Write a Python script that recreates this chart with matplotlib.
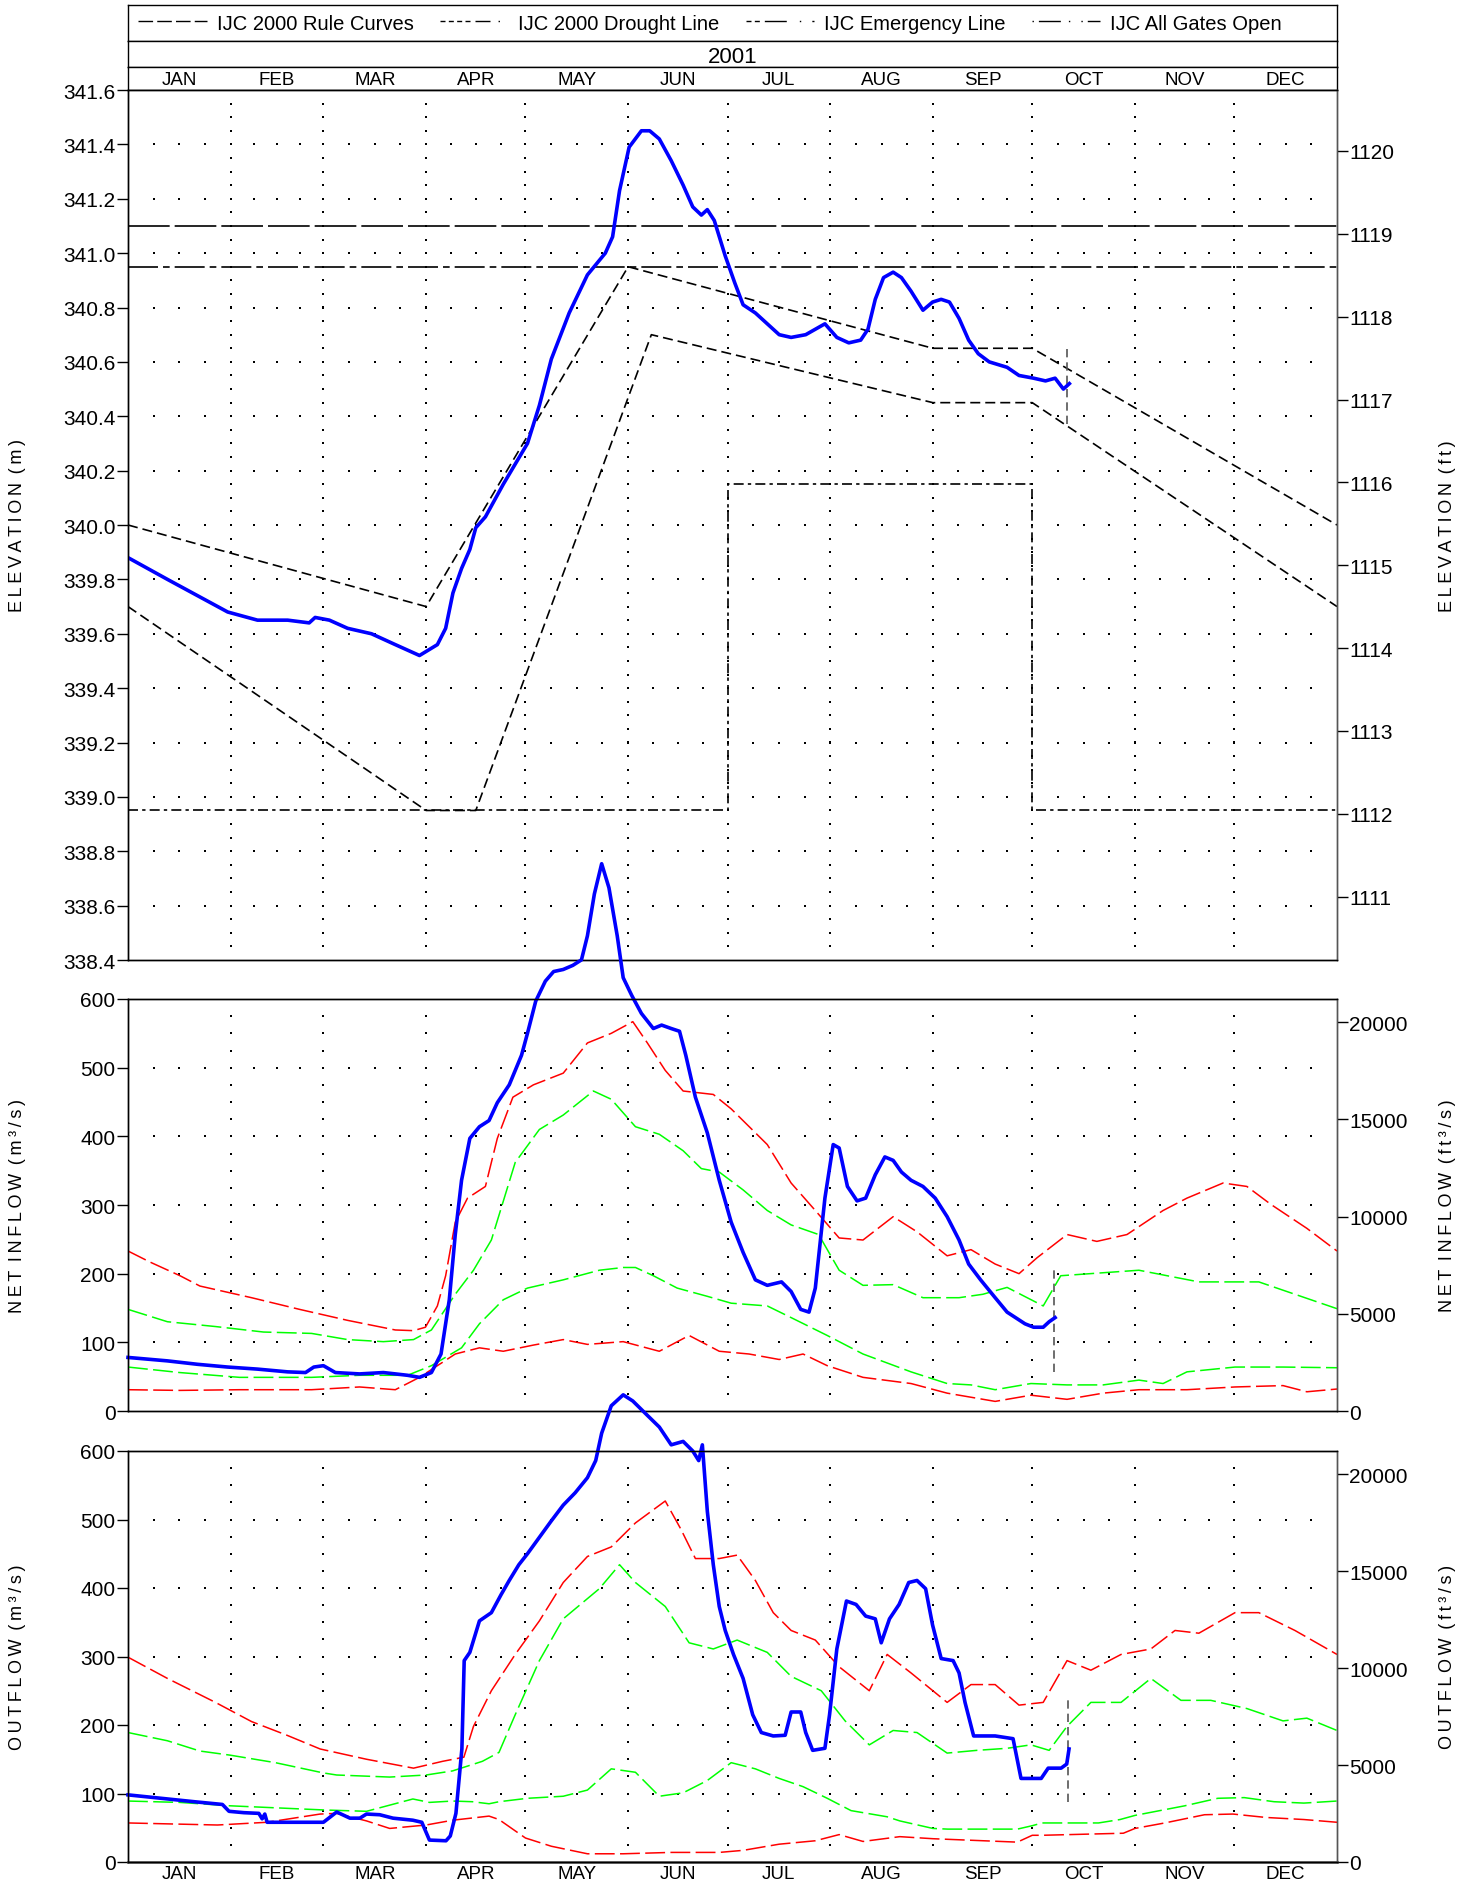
import numpy as np
import matplotlib
matplotlib.use('Agg')
import matplotlib.pyplot as plt
import matplotlib.transforms as mtrans
from matplotlib.lines import Line2D

plt.rcParams['font.family'] = ['Liberation Sans', 'DejaVu Sans']

FT = 3.28084      # m -> ft
CFS = 35.3147     # m3/s -> ft3/s

months = ['JAN', 'FEB', 'MAR', 'APR', 'MAY', 'JUN', 'JUL', 'AUG', 'SEP', 'OCT', 'NOV', 'DEC']
month_start = [0, 31, 59, 90, 120, 151, 181, 212, 243, 273, 304, 334, 365]
year = '2001'

# elevation (day of year, m)
elev_day = [0, 11.9, 21, 30.1, 39.1, 48.2, 54.7, 56.5, 60.8, 66.3,
            73.5, 80.7, 88, 93.4, 95.9, 98.1, 100.7, 103.2, 105, 107.9,
            113.3, 120.6, 124.2, 127.8, 133.2, 138.7, 144.1, 146.3, 148.4, 151.3,
            155, 157.5, 160.4, 164, 167.6, 170.5, 173.1, 174.9, 177, 180.3,
            183.2, 185.7, 189.4, 193, 196.6, 200.2, 204.6, 207.5, 210.4, 214,
            217.6, 221.2, 223.4, 225.6, 228.1, 231, 233.5, 236.4, 240, 242.9,
            245.5, 248, 250.9, 253.8, 256.7, 260, 265.4, 269, 273.4, 277,
            279.9, 282.4, 284.2]
elev_m = [339.88, 339.80, 339.74, 339.68, 339.65, 339.65, 339.64, 339.66, 339.65, 339.62,
          339.60, 339.56, 339.52, 339.56, 339.62, 339.75, 339.84, 339.91, 339.99, 340.03,
          340.15, 340.30, 340.44, 340.61, 340.78, 340.92, 341.00, 341.06, 341.23, 341.39,
          341.45, 341.45, 341.42, 341.34, 341.25, 341.17, 341.14, 341.16, 341.12, 340.99,
          340.89, 340.81, 340.78, 340.74, 340.70, 340.69, 340.70, 340.72, 340.74, 340.69,
          340.67, 340.68, 340.72, 340.83, 340.91, 340.93, 340.91, 340.86, 340.79, 340.82,
          340.83, 340.82, 340.76, 340.68, 340.63, 340.60, 340.58, 340.55, 340.54, 340.53,
          340.54, 340.50, 340.52]

rule_upper = [(0, 340.0), (90, 339.7), (151, 340.95), (243, 340.65), (273, 340.65), (365, 340.0)]
rule_lower = [(0, 339.7), (90, 338.95), (105, 338.95), (158, 340.7), (243, 340.45), (273, 340.45), (365, 339.7)]
drought = [(0, 338.95), (181, 338.95), (181, 340.15), (273, 340.15), (273, 338.95), (365, 338.95)]
emergency_level = 340.95
all_gates_level = 341.1
elev_mark = (283.5, 340.37, 340.66)

# net inflow (day, m3/s)
inflow = [(0, 78), (11.9, 73), (21, 68), (30.1, 64), (39.1, 61), (48.2, 57), (53.6, 56), (56.1, 64),
          (59, 66), (62.6, 56), (69.9, 54), (77.1, 56), (84.4, 52), (88, 49), (91.6, 56), (94.5, 83),
          (97, 162), (98.8, 257), (100.7, 336), (103.2, 397), (106.1, 414), (109, 423), (111.5, 449),
          (115.1, 475), (118.8, 518), (120.6, 550), (123.1, 597), (126, 626), (128.5, 640), (131.4, 643),
          (134.3, 649), (136.9, 657), (138.7, 692), (140.8, 753), (143, 797), (145.2, 762), (147.7, 692),
          (149.5, 631), (152.1, 605), (155, 579), (158.6, 557), (161.1, 562), (164, 557), (166.5, 553),
          (168.4, 518), (171.3, 457), (174.9, 405), (178.5, 336), (182.1, 275), (185.7, 231), (189.4, 191),
          (193, 183), (197.3, 188), (200.2, 174), (203.1, 148), (205.6, 144), (207.5, 179), (210.4, 310),
          (212.9, 388), (214.7, 383), (217.2, 327), (220.1, 306), (222.7, 310), (225.6, 344), (228.5, 370),
          (231, 365), (233.5, 348), (236.4, 336), (240, 327), (243.7, 310), (247.3, 283), (250.9, 249),
          (253.8, 214), (257.4, 191), (261.8, 165), (265.4, 144), (270.8, 127), (273.4, 122), (276.3, 122),
          (278.1, 130), (279.9, 136)]
in_red_hi = [(0, 233), (6.6, 217), (15.7, 197), (21.7, 182), (37.3, 165), (51.8, 148), (66.3, 132),
             (80.7, 118), (86.2, 117), (89.8, 122), (93.4, 153), (95.9, 197), (98.8, 275), (102.5, 310),
             (107.9, 327), (111.5, 397), (116.2, 457), (122.4, 475), (131.4, 492), (138.7, 536), (145.9, 550),
             (152.4, 567), (156.8, 536), (162.2, 496), (167.6, 466), (176.7, 461), (182.1, 440), (193, 388),
             (200.2, 332), (207.5, 292), (214.7, 252), (221.9, 249), (231, 283), (238.2, 261), (247.3, 226),
             (254.5, 235), (261.8, 214), (269, 200), (274.4, 223), (283.5, 257), (292.5, 247), (301.6, 257),
             (312.5, 292), (319.7, 310), (330.6, 332), (337.8, 327), (345, 301), (355.9, 266), (365, 233)]
in_green_hi = [(0, 148), (11.9, 130), (26.4, 123), (40.9, 115), (55.4, 113), (66.3, 104), (77.1, 101),
               (86.2, 104), (91.6, 118), (98.8, 170), (104.3, 205), (109.7, 249), (116.9, 362), (124.2, 410),
               (131.4, 431), (140.5, 466), (145.9, 454), (153.2, 414), (160.4, 403), (167.6, 379), (173.1, 353),
               (178.5, 348), (185.7, 322), (193, 292), (200.2, 271), (208.5, 257), (214.7, 205), (221.9, 183),
               (231, 184), (240, 165), (250.9, 165), (258.1, 170), (265.4, 180), (276.3, 153), (281.6, 197),
               (305.2, 205), (323.3, 188), (341.4, 188), (365, 149)]
in_green_lo = [(0, 64), (15.6, 56), (33.7, 49), (55.4, 49), (69.9, 52), (84.4, 52), (91.6, 66), (100.7, 92),
               (106.1, 127), (113.3, 162), (120.6, 179), (131.4, 191), (142.3, 205), (149.5, 209), (153.2, 209),
               (158.6, 197), (165.8, 179), (174.9, 167), (182.1, 157), (193, 153), (200.2, 136), (211.1, 110),
               (221.9, 83), (236.4, 57), (247.3, 40), (254.5, 38), (261.8, 31), (272.6, 40), (283.5, 38),
               (294.4, 38), (305.2, 45), (312.5, 40), (319.7, 57), (334.2, 64), (348.7, 64), (365, 63)]
in_red_lo = [(0, 31), (15.6, 30), (33.7, 31), (55.4, 31), (69.9, 35), (80.7, 31), (88, 49), (98.8, 83),
             (106.1, 92), (113.3, 87), (122.4, 96), (131.4, 104), (138.7, 97), (149.5, 101), (160.4, 87),
             (169.4, 110), (178.5, 87), (187.5, 83), (196.6, 75), (203.8, 83), (211.1, 66), (221.9, 49),
             (236.4, 40), (247.3, 26), (261.8, 14), (272.6, 23), (283.5, 17), (294.4, 26), (305.2, 31),
             (319.7, 31), (334.2, 35), (348.7, 37), (355.9, 28), (365, 32)]
in_mark = (279.5, 57, 210)

# outflow (day, m3/s)
outflow = [(0, 98), (10, 93), (20, 88), (28.5, 84), (30.5, 74), (35, 72), (39.5, 71), (40.5, 63), (41.3, 70),
           (42, 58), (59, 58), (63, 73), (67, 64), (70, 64), (72, 70), (76, 69), (80, 64), (86, 61), (88.7, 58),
           (91, 32), (96, 31), (97.3, 38), (99, 71), (100.8, 165), (101.5, 294), (103.2, 306), (106.1, 352),
           (109.7, 364), (112.6, 390), (115.1, 411), (118, 434), (120.6, 450), (124.2, 474), (127.8, 498),
           (131.4, 521), (135, 539), (138.7, 561), (141.2, 586), (143, 626), (145.9, 666), (149.5, 682),
           (152.4, 673), (156.8, 652), (160.4, 635), (164, 609), (167.6, 614), (170.5, 600), (172.3, 586),
           (173.4, 609), (174.9, 512), (176.7, 434), (178.5, 373), (180.3, 338), (182.8, 303), (185.7, 268),
           (188.6, 215), (191.2, 189), (194.8, 184), (198.4, 185), (200.2, 219), (203.1, 219), (204.6, 189),
           (206.7, 163), (210.4, 166), (211.8, 215), (214, 311), (216.9, 381), (219.8, 376), (222.7, 359),
           (225.6, 355), (227.4, 320), (229.9, 355), (232.8, 376), (235.7, 408), (238.2, 411), (240.8, 399),
           (242.9, 346), (245.5, 297), (249.1, 294), (250.9, 276), (252.7, 233), (255.3, 184), (261.8, 184),
           (267.2, 180), (269.6, 122), (275.7, 122), (277.8, 137), (281.7, 137), (283.4, 143), (284.1, 165)]
out_red_hi = [(0, 299), (11.9, 268), (26.4, 233), (37.3, 205), (48, 185), (58, 165), (72, 150), (86.2, 137),
              (95, 147), (101.4, 153), (104.3, 198), (109.7, 250), (116.9, 303), (124.2, 352), (131.4, 408),
              (138.7, 446), (145.9, 460), (153.2, 495), (162.2, 527), (166.9, 486), (171.3, 443), (178.5, 443),
              (183.9, 448), (189.4, 411), (194.8, 364), (200.2, 338), (207.5, 324), (214.7, 285), (223.8, 250),
              (229.2, 303), (236.4, 276), (247.3, 233), (254.5, 259), (261.8, 259), (269, 229), (276.3, 233),
              (283.5, 294), (290.7, 280), (299.8, 303), (308.8, 311), (316.1, 338), (323.3, 334), (334.2, 364),
              (341.4, 364), (352.3, 338), (365, 303)]
out_green_hi = [(0, 189), (11.9, 177), (21.7, 162), (30.8, 156), (44.5, 145), (59, 130), (63, 127), (79, 124),
                (90, 127), (98, 133), (107, 147), (112, 160), (116.9, 215), (124.2, 294), (131.4, 355),
                (142.3, 399), (148.4, 434), (153.2, 408), (162.2, 373), (169.4, 320), (176.7, 311), (183.9, 324),
                (193, 306), (200.2, 271), (209.3, 250), (216.5, 206), (223.8, 171), (231, 192), (238.2, 189),
                (247.3, 159), (256.3, 163), (265.4, 166), (272.6, 171), (278.1, 163), (283.5, 198), (290.7, 233),
                (299.8, 233), (308.8, 268), (317.9, 236), (326.9, 236), (337.8, 224), (348.7, 206), (355.9, 210),
                (365, 192)]
out_green_lo = [(0, 89), (15.6, 87), (31, 82), (59, 76), (72, 74), (86, 92), (91, 87), (98, 89), (104, 88),
                (109, 85), (112, 88), (120.6, 93), (131.4, 96), (138.7, 105), (145.9, 136), (153.2, 131),
                (160.4, 96), (167.6, 101), (174.9, 119), (182.1, 145), (189.4, 136), (196.6, 122), (203.8, 110),
                (211.1, 93), (218.3, 75), (229.2, 66), (233, 60), (243, 49), (247.5, 48), (268.5, 48), (273, 53),
                (276, 57), (293, 57), (299.5, 62), (304, 68), (319, 82), (329, 93), (337, 94), (346, 88),
                (355, 86), (365, 89)]
out_red_lo = [(0, 57), (27, 54), (42, 58), (58, 70), (63, 71), (72, 60), (79, 49), (90, 54), (98, 61), (109, 67),
              (112, 62), (120, 35), (127.8, 23), (138.7, 12), (149.5, 12), (164, 14), (178.5, 14), (185.7, 17),
              (196.6, 26), (207.5, 31), (214.7, 40), (221.9, 30), (233, 37), (243, 34), (268.5, 29), (273, 39),
              (276, 39), (300.5, 42), (304, 49), (313, 57), (325, 69), (333.6, 70), (343.6, 65), (355, 62),
              (365, 58)]
out_mark = (283.9, 87, 236)

# layout (pixel rows of the 1474x1881 picture)
W_PX, H_PX = 1474, 1881
X0, X1 = 128, 1337


def pos(top, bot):
    return [X0 / W_PX, 1 - bot / H_PX, (X1 - X0) / W_PX, (bot - top) / H_PX]


def xy(pairs):
    a = np.array(pairs, dtype=float)
    return a[:, 0], a[:, 1]


def dots(ax, rows, fine):
    # dotted grid: quarter-month dots on the major rows, and dotted month lines
    qx = []
    for i in range(12):
        for k in range(4):
            qx.append(month_start[i] + k * (month_start[i + 1] - month_start[i]) / 4)
    qx = qx[1:]
    X, Y = np.meshgrid(qx, rows)
    ax.plot(X.ravel(), Y.ravel(), ls='none', marker='s', ms=1.5, mew=0, color='k', zorder=1)
    X, Y = np.meshgrid(month_start[1:12], fine)
    ax.plot(X.ravel(), Y.ravel(), ls='none', marker='s', ms=1.5, mew=0, color='k', zorder=1)


def style(ax, ax2):
    ax.set_xlim(0, 365)
    for a in (ax, ax2):
        a.tick_params(axis='y', direction='out', length=8, width=1, labelsize=15, pad=1)
        for s in a.spines.values():
            s.set_linewidth(1)
        a.spines['right'].set_color('#555555')
    ax.tick_params(axis='y', left=True, right=False)


def spaced(s):
    return '\u2009'.join(s)


fig = plt.figure(figsize=(W_PX / 100, H_PX / 100), dpi=100)

# header boxes
axleg = fig.add_axes(pos(6, 42))
axyear = fig.add_axes(pos(42, 68))
axmon = fig.add_axes(pos(68, 91))
for a in (axleg, axyear, axmon):
    a.set_xticks([])
    a.set_yticks([])
    for s in a.spines.values():
        s.set_linewidth(1)
axyear.text(0.5, 0.42, year, ha='center', va='center', fontsize=16, transform=axyear.transAxes)
axmon.set_xlim(0, 365)
mid = [(month_start[i] + month_start[i + 1]) / 2 for i in range(12)]
for m, xm in zip(months, mid):
    axmon.text(xm, 0.45, m, ha='center', va='center', fontsize=13.5,
               transform=mtrans.blended_transform_factory(axmon.transData, axmon.transAxes))

handles = [
    Line2D([], [], color='k', lw=1, dashes=(10.5, 3)),
    Line2D([], [], color='k', lw=1, dashes=(3.6, 2.4, 3.6, 2.4, 3.6, 2.4, 3.6, 3.6, 10.8, 5.8, 1, 10)),
    Line2D([], [], color='k', lw=1, dashes=(3.6, 2.4, 3.6, 3.6, 15.8, 9.4, 1, 8)),
    Line2D([], [], color='k', lw=1, dashes=(1, 3.6, 15.8, 5.8, 1, 8)),
]
labels = ['IJC 2000 Rule Curves', 'IJC 2000 Drought Line', 'IJC Emergency Line', 'IJC All Gates Open']
axleg.legend(handles, labels, loc='center left', bbox_to_anchor=(0, 0.5), ncol=4, frameon=False,
             fontsize=14.5, handlelength=3.4, handletextpad=0.5, columnspacing=1.3, borderaxespad=0.1)

# elevation panel
ax1 = fig.add_axes(pos(91, 961))
ax1b = ax1.twinx()
dots(ax1, np.arange(338.6, 341.45, 0.2), np.arange(338.45, 341.56, 0.05))
x, y = xy(rule_upper)
ax1.plot(x, y, color='k', lw=1.2, dashes=(6, 3))
x, y = xy(rule_lower)
ax1.plot(x, y, color='k', lw=1.2, dashes=(6, 3))
x, y = xy(drought)
ax1.plot(x, y, color='k', lw=1.2, dashes=(6, 2.5, 2, 2.5))
ax1.plot([0, 365], [emergency_level] * 2, color='k', lw=1.2, dashes=(18, 3, 4, 3))
ax1.plot([0, 365], [all_gates_level] * 2, color='k', lw=1.2, dashes=(25, 3))
ax1.plot([elev_mark[0]] * 2, elev_mark[1:], color='#555555', lw=1.2, dashes=(5, 3))
ax1.plot(elev_day, elev_m, color='#0000ff', lw=2.6, zorder=5)
ax1.set_ylim(338.4, 341.6)
ax1.set_yticks(np.round(np.arange(338.4, 341.61, 0.2), 1))
ax1.yaxis.set_major_formatter(matplotlib.ticker.FormatStrFormatter('%.1f'))
ax1b.set_ylim(338.4 * FT, 341.6 * FT)
ax1b.set_yticks(range(1111, 1121))
ax1.set_xticks([])
style(ax1, ax1b)


def flow_panel(rect, main, bands, mark):
    ax = fig.add_axes(rect)
    axb = ax.twinx()
    dots(ax, range(100, 501, 100), range(25, 576, 25))
    for pairs, c in bands:
        x, y = xy(pairs)
        ax.plot(x, y, color=c, lw=1.1, dashes=(13, 3.5), zorder=3)
    ax.plot([mark[0]] * 2, mark[1:], color='#555555', lw=1.2, dashes=(5, 3))
    x, y = xy(main)
    ax.plot(x, y, color='#0000ff', lw=2.6, zorder=6, clip_on=False)
    ax.set_ylim(0, 600)
    ax.set_yticks(range(0, 601, 100))
    axb.set_ylim(0, 600 * CFS)
    axb.set_yticks(range(0, 20001, 5000))
    style(ax, axb)
    return ax


ax2 = flow_panel(pos(1000, 1412), inflow,
                 [(in_red_hi, '#ff0000'), (in_green_hi, '#00ff00'), (in_green_lo, '#00ff00'), (in_red_lo, '#ff0000')],
                 in_mark)
ax2.set_xticks([])
ax3 = flow_panel(pos(1452, 1863), outflow,
                 [(out_red_hi, '#ff0000'), (out_green_hi, '#00ff00'), (out_green_lo, '#00ff00'), (out_red_lo, '#ff0000')],
                 out_mark)
ax3.set_xticks(mid)
ax3.set_xticklabels(months, fontsize=13.5)
ax3.tick_params(axis='x', length=0, pad=2)
ax3.spines['bottom'].set_color('#444444')
ax3.spines['bottom'].set_linewidth(1.8)

# axis titles
fig.text(18 / W_PX, 1 - 526 / H_PX, spaced('ELEVATION') + '\u2009 ' + spaced('(m)'), rotation=90,
         ha='center', va='center', fontsize=13)
fig.text(1448 / W_PX, 1 - 526 / H_PX, spaced('ELEVATION') + '\u2009 ' + spaced('(ft)'), rotation=90,
         ha='center', va='center', fontsize=13)
fig.text(18 / W_PX, 1 - 1206 / H_PX, spaced('NET') + '\u2009 ' + spaced('INFLOW') + '\u2009 ' + spaced('(m³/s)'),
         rotation=90, ha='center', va='center', fontsize=13)
fig.text(1448 / W_PX, 1 - 1206 / H_PX, spaced('NET') + '\u2009 ' + spaced('INFLOW') + '\u2009 ' + spaced('(ft³/s)'),
         rotation=90, ha='center', va='center', fontsize=13)
fig.text(18 / W_PX, 1 - 1657 / H_PX, spaced('OUTFLOW') + '\u2009 ' + spaced('(m³/s)'), rotation=90,
         ha='center', va='center', fontsize=13)
fig.text(1448 / W_PX, 1 - 1657 / H_PX, spaced('OUTFLOW') + '\u2009 ' + spaced('(ft³/s)'), rotation=90,
         ha='center', va='center', fontsize=13)

fig.savefig('out.png', dpi=100)
